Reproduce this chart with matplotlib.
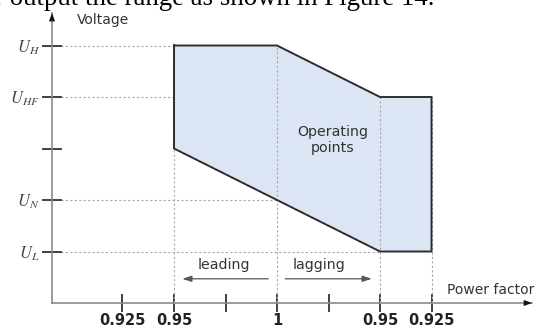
import matplotlib
matplotlib.use("Agg")
import matplotlib.pyplot as plt

# ---- data ----
x_tick_pos = [2, 3, 4, 5, 6, 7, 8]
x_tick_labels = ["0.925", "0.95", "", "1", "", "0.95", "0.925"]
y_tick_pos = [1, 2, 3, 4, 5]
y_tick_labels = [r"$U_L$", r"$U_N$", "", r"$U_{HF}$", r"$U_H$"]

region_x = [3, 5, 7, 8]
region_upper = [5, 5, 4, 4]
region_lower = [3, 2, 1, 1]

guide_h_levels = [5, 4, 2, 1]
guide_h_ends = [3, 7, 5, 7]
guide_v_pos = [3, 5, 7, 8]
guide_v_ends = [5, 5, 4, 4]

caption = "r output the range as shown in Figure 14."

# ---- figure ----
plt.rcParams["mathtext.fontset"] = "stix"
fig = plt.figure(figsize=(5.45, 3.32), dpi=100)
W, H = 545, 332
ax = fig.add_axes([52 / W, (H - 303) / H, 480 / W, 290 / H])
ax.set_xlim(5 + (52 - 277) / 51.5, 5 + (532 - 277) / 51.5)
ax.set_ylim(0, 290 / 51.5)

for s in ["top", "right"]:
    ax.spines[s].set_visible(False)
for s in ["left", "bottom"]:
    ax.spines[s].set_color("#8a8a8a")
    ax.spines[s].set_linewidth(1.2)

# guides
gcol = "#a8a8a8"
for lvl, end in zip(guide_h_levels, guide_h_ends):
    ax.plot([ax.get_xlim()[0], end], [lvl, lvl], color=gcol, lw=0.8,
            ls=(0, (2, 2)), zorder=1)
for pos, end in zip(guide_v_pos, guide_v_ends):
    ax.plot([pos, pos], [0, end], color=gcol, lw=0.8, ls=(0, (2, 2)), zorder=3)

# region
ax.fill_between(region_x, region_lower, region_upper, color="#dce5f3",
                lw=0, zorder=2)
ox = region_x + region_x[::-1] + [region_x[0]]
oy = region_upper + region_lower[::-1] + [region_upper[0]]
ax.plot(ox, oy, color="#2e2e2e", lw=1.4, zorder=4, solid_joinstyle="miter")

# ticks
ax.set_xticks(x_tick_pos)
ax.set_xticklabels(x_tick_labels, fontsize=10.5, fontweight="bold",
                   color="#222222", family="DejaVu Sans")
ax.set_yticks(y_tick_pos)
ax.set_yticklabels(y_tick_labels, fontsize=12, color="#444444")
ax.tick_params(axis="x", direction="inout", length=13, width=1.3,
               color="#333333", pad=1)
ax.tick_params(axis="y", direction="inout", length=14, width=1.3,
               color="#333333", pad=2)

# axis arrows
ax.annotate("", xy=(1, 0), xycoords="axes fraction", xytext=(0.97, 0),
            arrowprops=dict(arrowstyle="-|>,head_length=0.6,head_width=0.22",
                            color="#111111", lw=0, shrinkA=0, shrinkB=0))
ax.annotate("", xy=(0, 1), xycoords="axes fraction", xytext=(0, 0.95),
            arrowprops=dict(arrowstyle="-|>,head_length=0.6,head_width=0.22",
                            color="#111111", lw=0, shrinkA=0, shrinkB=0))

# labels
tcol = "#333333"
fig.text(77 / W, 1 - 20 / H, "Voltage", fontsize=10, color=tcol,
         ha="left", va="center")
ax.text(5 + (447 - 277) / 51.5, 13 / 51.5, "Power factor", fontsize=10,
        color=tcol, ha="left", va="center")
ax.text(6.08, 3.17, "Operating\npoints", fontsize=10.2, color=tcol,
        ha="center", va="center", linespacing=1.15, zorder=5)
ax.text(3.97, 0.74, "leading", fontsize=10.2, color=tcol, ha="center",
        va="center")
ax.text(5.82, 0.74, "lagging", fontsize=10.2, color=tcol, ha="center",
        va="center")

acol = "#555555"
ax.annotate("", xy=(3.16, 0.47), xytext=(4.83, 0.47),
            arrowprops=dict(arrowstyle="-|>,head_length=0.55,head_width=0.18",
                            color=acol, lw=0.9, shrinkA=0, shrinkB=0))
ax.annotate("", xy=(6.84, 0.47), xytext=(5.16, 0.47),
            arrowprops=dict(arrowstyle="-|>,head_length=0.55,head_width=0.18",
                            color=acol, lw=0.9, shrinkA=0, shrinkB=0))

# clipped caption at top (partially cut off, as in the reference)
fig.text(-6 / W, 1 - 5 / H, caption, fontsize=19.4, family="Liberation Serif",
         color="#000000", ha="left", va="baseline")

fig.savefig("out.png", dpi=100)
